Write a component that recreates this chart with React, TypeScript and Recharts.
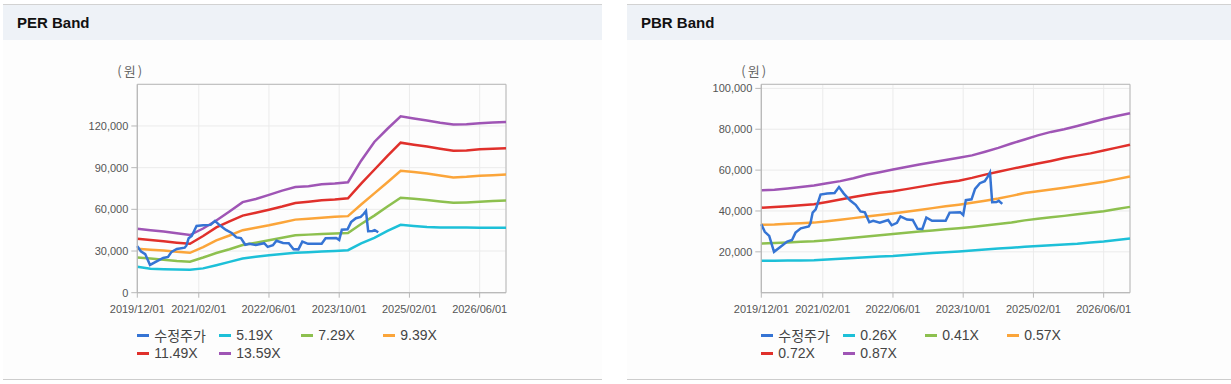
import React from "react";
import { LineChart, Line, XAxis, YAxis, CartesianGrid, ReferenceArea } from "recharts";

// month index 0 = 2019/12/01
const bandMonths = [0, 3, 6, 9, 12, 15, 18, 21, 24, 27, 30, 33, 36, 39, 42, 45, 48, 51, 54, 57, 60, 63, 66, 69, 72, 75, 78, 81, 84];
const tickMonths = [0, 14, 30, 46, 62, 78];
const tickLabels = ["2019/12/01", "2021/02/01", "2022/06/01", "2023/10/01", "2025/02/01", "2026/06/01"];

// 수정주가 (adjusted price)
const priceMonths = [0, 0.8, 1.8, 2.9, 4.4, 5.9, 7.0, 7.8, 9.0, 10.8, 11.2, 11.7, 12.4, 13.5, 15.0, 16.7, 17.7, 18.8, 20.2, 21.5, 22.6, 23.6, 24.6, 25.5, 27.0, 28.9, 29.7, 30.9, 31.7, 33.2, 34.5, 35.6, 36.7, 37.6, 38.9, 42.0, 42.9, 45.3, 46.0, 46.6, 47.9, 48.7, 49.8, 50.9, 51.6, 52.1, 52.6, 53.6, 54.1, 54.9];
const priceValues = [33500, 29800, 27800, 20000, 22500, 25000, 25800, 29400, 31500, 32400, 34000, 39200, 40800, 48000, 48500, 48800, 51700, 48500, 45200, 43000, 39800, 39300, 34500, 35200, 34300, 35600, 33000, 34200, 37400, 35800, 35600, 31300, 31200, 36800, 35200, 35200, 39200, 39400, 38000, 45300, 45700, 50800, 53600, 54600, 56800, 58800, 44300, 44400, 45000, 43500];

// PER band
const perLabels = ["5.19X", "7.29X", "9.39X", "11.49X", "13.59X"];
const per519 = [18600, 17200, 16900, 16700, 16600, 17500, 19800, 22200, 24600, 25800, 27000, 27800, 28700, 29200, 29600, 30000, 30600, 35500, 39500, 44500, 48900, 48000, 47300, 47000, 46900, 46900, 46800, 46800, 46800];
const per729 = [25300, 24700, 23800, 22800, 22300, 25300, 28600, 31300, 34300, 36000, 37700, 39500, 41400, 41800, 42300, 42600, 43000, 49500, 55500, 62000, 68300, 67600, 66700, 65600, 64700, 65000, 65500, 66000, 66400];
const per939 = [31700, 31000, 30400, 29500, 28700, 32800, 37700, 41200, 45000, 46800, 48500, 50500, 52600, 53200, 54000, 54600, 55100, 63500, 71500, 79500, 87800, 86800, 85800, 84400, 83000, 83400, 84200, 84600, 85000];
const per1149 = [38900, 38000, 37000, 36000, 35200, 40800, 47000, 51300, 55500, 57500, 59700, 62000, 64600, 65500, 66500, 67000, 68000, 78500, 88500, 98500, 108000, 106500, 105200, 103600, 102200, 102400, 103200, 103600, 104000];
const per1359 = [46100, 45000, 44100, 42800, 41500, 46200, 52000, 58500, 65200, 67500, 70400, 73500, 76000, 76600, 78000, 78600, 79500, 95000, 108500, 118000, 127000, 125400, 124000, 122300, 121000, 121300, 122000, 122500, 122900];

// PBR band
const pbrLabels = ["0.26X", "0.41X", "0.57X", "0.72X", "0.87X"];
const pbr026 = [15600, 15600, 15700, 15800, 15900, 16200, 16600, 17000, 17300, 17700, 18000, 18500, 18900, 19400, 19800, 20200, 20700, 21200, 21600, 22000, 22500, 22900, 23200, 23600, 24000, 24600, 25100, 25800, 26500];
const pbr041 = [24100, 24300, 24600, 24900, 25200, 25700, 26300, 26900, 27500, 28100, 28700, 29300, 29900, 30500, 31000, 31600, 32200, 32900, 33600, 34400, 35400, 36200, 36900, 37600, 38400, 39100, 39900, 41000, 42000];
const pbr057 = [33300, 33400, 33700, 34000, 34300, 35000, 35700, 36500, 37300, 38000, 38800, 39600, 40500, 41400, 42300, 43100, 44000, 45000, 46100, 47400, 48800, 49700, 50500, 51400, 52300, 53300, 54300, 55600, 56900];
const pbr072 = [41600, 41900, 42300, 42800, 43300, 44400, 45600, 46800, 47900, 48900, 49700, 50700, 51800, 52900, 53900, 54800, 56200, 57800, 59200, 60600, 61900, 63200, 64500, 65900, 67100, 68200, 69600, 71000, 72400];
const pbr087 = [50100, 50400, 51000, 51700, 52500, 53600, 54600, 56000, 57700, 59000, 60300, 61500, 62700, 63800, 64900, 66000, 67200, 69000, 70900, 73000, 75000, 77000, 78700, 80000, 81600, 83300, 85000, 86500, 87800];

const priceName = "수정주가";
const priceColor = "#3574d4";
const bandColors = ["#1dc0d8", "#8dc04f", "#fba53a", "#e0302b", "#9f55b5"];

const priceData = priceMonths.map((m, i) => ({ m, price: priceValues[i] }));

const buildBands = (series: number[][]) =>
  bandMonths.map((m, i) => {
    const row: any = { m };
    series.forEach((s, k) => {
      row["b" + k] = s[i];
    });
    return row;
  });

const perData = buildBands([per519, per729, per939, per1149, per1359]);
const pbrData = buildBands([pbr026, pbr041, pbr057, pbr072, pbr087]);

const tickFont = 'Arial, "Liberation Sans", sans-serif';
const krFont = '"Noto Sans CJK KR", sans-serif';
const axisGray = "#b8b8b8";

const fmtMonth = (v: number) => tickLabels[tickMonths.indexOf(v)] ?? "";
const fmtWon = (v: number) => v.toLocaleString("en-US");

interface BandProps {
  left: number;
  yAxisWidth: number;
  marginRight: number;
  data: any[];
  labels: string[];
  yMax: number;
  yTicks: number[];
}

const BandChart = ({ left, yAxisWidth, marginRight, data, labels, yMax, yTicks }: BandProps) => {
  const plotLeft = left + yAxisWidth;
  return (
    <>
      <div
        style={{
          position: "absolute",
          left: plotLeft - 20,
          top: 62,
          fontSize: 13,
          lineHeight: "18px",
          color: "#666",
          letterSpacing: 2,
          fontFamily: krFont,
        }}
      >
        (원)
      </div>
      <div style={{ position: "absolute", left, top: 60 }}>
        <LineChart width={460} height={260} margin={{ top: 24.3, right: marginRight, bottom: 0, left: 0 }}>
          <CartesianGrid stroke="#ebebeb" />
          <XAxis
            type="number"
            dataKey="m"
            domain={[0, 84]}
            ticks={tickMonths}
            interval={0}
            tickFormatter={fmtMonth}
            height={27.3}
            tickSize={5}
            tickMargin={7}
            stroke={axisGray}
            tick={{ fill: "#555", fontSize: 11, fontFamily: tickFont }}
          />
          <YAxis
            type="number"
            domain={[0, yMax]}
            ticks={yTicks}
            interval={0}
            tickFormatter={fmtWon}
            width={yAxisWidth}
            tickSize={6}
            tickMargin={3}
            stroke={axisGray}
            tick={{ fill: "#555", fontSize: 11, fontFamily: tickFont }}
          />
          <ReferenceArea x1={0} x2={84} y1={0} y2={yMax} fill="none" stroke={axisGray} ifOverflow="visible" />
          {labels.map((name, k) => (
            <Line
              key={name}
              data={data}
              dataKey={"b" + k}
              name={name}
              type="linear"
              stroke={bandColors[k]}
              strokeWidth={2.5}
              dot={false}
              activeDot={false}
              isAnimationActive={false}
            />
          ))}
          <Line
            data={priceData}
            dataKey="price"
            name={priceName}
            type="linear"
            stroke={priceColor}
            strokeWidth={2.5}
            dot={false}
            activeDot={false}
            isAnimationActive={false}
          />
        </LineChart>
      </div>
      <div
        style={{
          position: "absolute",
          left: plotLeft,
          top: 327,
          width: 340,
          display: "flex",
          flexWrap: "wrap",
        }}
      >
        {[priceName, ...labels].map((name, i) => (
          <div key={name} style={{ width: 82, height: 17.6, display: "flex", alignItems: "center" }}>
            <span
              style={{
                display: "inline-block",
                width: 12,
                height: 3,
                marginRight: 5,
                background: i === 0 ? priceColor : bandColors[i - 1],
              }}
            />
            <span
              style={{
                fontSize: i === 0 ? 14 : 14,
                lineHeight: "17px",
                color: "#444",
                fontFamily: i === 0 ? krFont : tickFont,
                whiteSpace: "nowrap",
              }}
            >
              {name}
            </span>
          </div>
        ))}
      </div>
    </>
  );
};

const Panel = ({ left, width, title }: { left: number; width: number; title: string }) => (
  <div
    style={{
      position: "absolute",
      left,
      top: 4,
      width,
      height: 374,
      borderTop: "1px solid #d2d2d2",
      borderBottom: "1px solid #cdcdcd",
      background: "#fdfdfd",
    }}
  >
    <div
      style={{
        height: 35,
        lineHeight: "35px",
        background: "#eef2f7",
        paddingLeft: 14,
        fontWeight: "bold",
        fontSize: 15,
        color: "#111",
        fontFamily: '"Liberation Sans", Arial, sans-serif',
      }}
    >
      {title}
    </div>
  </div>
);

export default function App() {
  return (
    <div style={{ position: "absolute", left: 0, top: 0, width: 1231, height: 384, background: "#fff", overflow: "hidden" }}>
      <Panel left={3} width={599} title="PER Band" />
      <Panel left={627} width={604} title="PBR Band" />
      <BandChart
        left={60}
        yAxisWidth={77.3}
        marginRight={14}
        data={perData}
        labels={perLabels}
        yMax={150000}
        yTicks={[0, 30000, 60000, 90000, 120000]}
      />
      <BandChart
        left={680}
        yAxisWidth={81.3}
        marginRight={10}
        data={pbrData}
        labels={pbrLabels}
        yMax={102000}
        yTicks={[20000, 40000, 60000, 80000, 100000]}
      />
    </div>
  );
}
